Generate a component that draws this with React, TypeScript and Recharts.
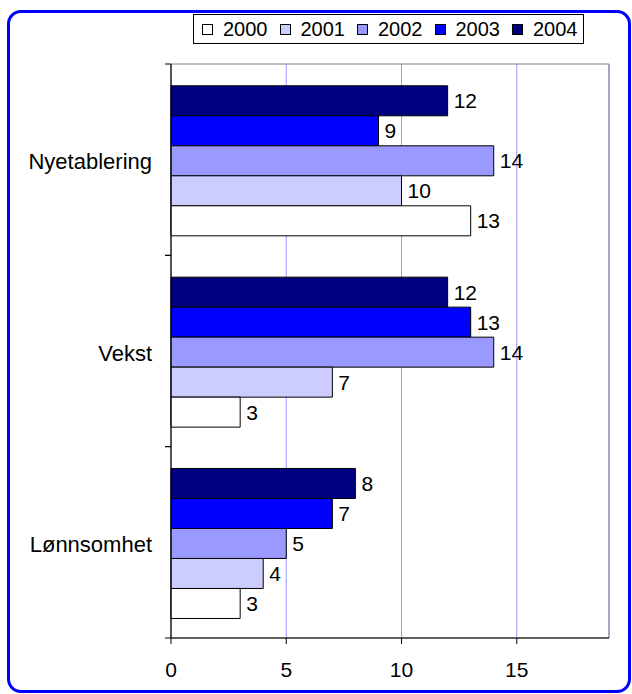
import { BarChart, Bar, XAxis, YAxis, CartesianGrid, LabelList, ReferenceArea } from "recharts";

const categories = ["Nyetablering", "Vekst", "Lønnsomhet"];
const years = ["2000", "2001", "2002", "2003", "2004"];
const v2000 = [13, 3, 3];
const v2001 = [10, 7, 4];
const v2002 = [14, 14, 5];
const v2003 = [9, 13, 7];
const v2004 = [12, 12, 8];
const xTicks = [0, 5, 10, 15];

const colors: Record<string, string> = {
  "2000": "#FFFFFF",
  "2001": "#CCCCFF",
  "2002": "#9999FF",
  "2003": "#0000FF",
  "2004": "#000080",
};

const seriesValues: Record<string, number[]> = {
  "2000": v2000,
  "2001": v2001,
  "2002": v2002,
  "2003": v2003,
  "2004": v2004,
};

const data = categories.map((name, i) => {
  const row: Record<string, string | number> = { name };
  years.forEach((y) => (row[y] = seriesValues[y][i]));
  return row;
});

const FONT = "'Liberation Sans', Arial, sans-serif";
const FS = 21;
const CAT_FS = 22;
const LEGEND_FS = 20;

// labels centred in the band, tick marks on band edges (Excel style)
function CategoryTick(props: any) {
  const { x, y, payload } = props;
  const half = payload.offset ?? 0;
  return (
    <g>
      <line x1={x + 13} x2={x + 19} y1={y - half} y2={y - half} stroke="#000" />
      <line x1={x + 13} x2={x + 19} y1={y + half} y2={y + half} stroke="#000" />
      <text x={x} y={y + 2} dy="0.355em" textAnchor="end" fill="#000" fontSize={CAT_FS} fontFamily={FONT}>
        {payload.value}
      </text>
    </g>
  );
}

function LegendBox() {
  return (
    <div
      style={{
        position: "absolute",
        left: 193,
        top: 14,
        width: 391,
        height: 30,
        boxSizing: "border-box",
        border: "1px solid #000",
        background: "#fff",
        display: "flex",
        alignItems: "center",
        paddingLeft: 8,
        gap: 12,
        fontFamily: FONT,
        fontSize: LEGEND_FS,
      }}
    >
      {years.map((y) => (
        <div key={y} style={{ display: "flex", alignItems: "center" }}>
          <span
            style={{
              display: "inline-block",
              width: 11,
              height: 11,
              boxSizing: "border-box",
              border: "1px solid #000",
              background: colors[y],
              marginRight: 10,
            }}
          />
          <span>{y}</span>
        </div>
      ))}
    </div>
  );
}

export default function App() {
  return (
    <div style={{ position: "absolute", left: 0, top: 0, width: 632, height: 694, background: "#fff", fontFamily: FONT }}>
      <div
        style={{
          position: "absolute",
          left: 7,
          top: 10,
          width: 624,
          height: 683,
          boxSizing: "border-box",
          border: "3px solid #0000FF",
          borderRadius: 14,
        }}
      />
      <div style={{ position: "absolute", left: 0, top: 0 }}>
        <BarChart
          width={632}
          height={694}
          data={data}
          layout="vertical"
          margin={{ top: 64, right: 23, bottom: 26, left: 0 }}
          barCategoryGap="11.4%"
          barGap={0}
        >
          <CartesianGrid horizontal={false} stroke="#9999FF" />
          <ReferenceArea x1={0} x2={19} fill="none" stroke="#808080" />
          <XAxis
            type="number"
            domain={[0, 19]}
            ticks={xTicks}
            height={30}
            axisLine={{ stroke: "#000" }}
            tickLine={{ stroke: "#000" }}
            tickSize={6}
            tickMargin={18}
            tick={{ fill: "#000", fontSize: FS, fontFamily: FONT }}
          />
          <YAxis
            type="category"
            dataKey="name"
            width={171}
            axisLine={{ stroke: "#000" }}
            tickLine={false}
            tickSize={6}
            tickMargin={13}
            tick={<CategoryTick />}
          />
          {[...years].reverse().map((y) => (
            <Bar key={y} dataKey={y} fill={colors[y]} stroke="#000" strokeWidth={1} isAnimationActive={false}>
              <LabelList dataKey={y} position="right" offset={6} fill="#000" fontSize={FS} fontFamily={FONT} />
            </Bar>
          ))}
        </BarChart>
      </div>
      <LegendBox />
    </div>
  );
}
